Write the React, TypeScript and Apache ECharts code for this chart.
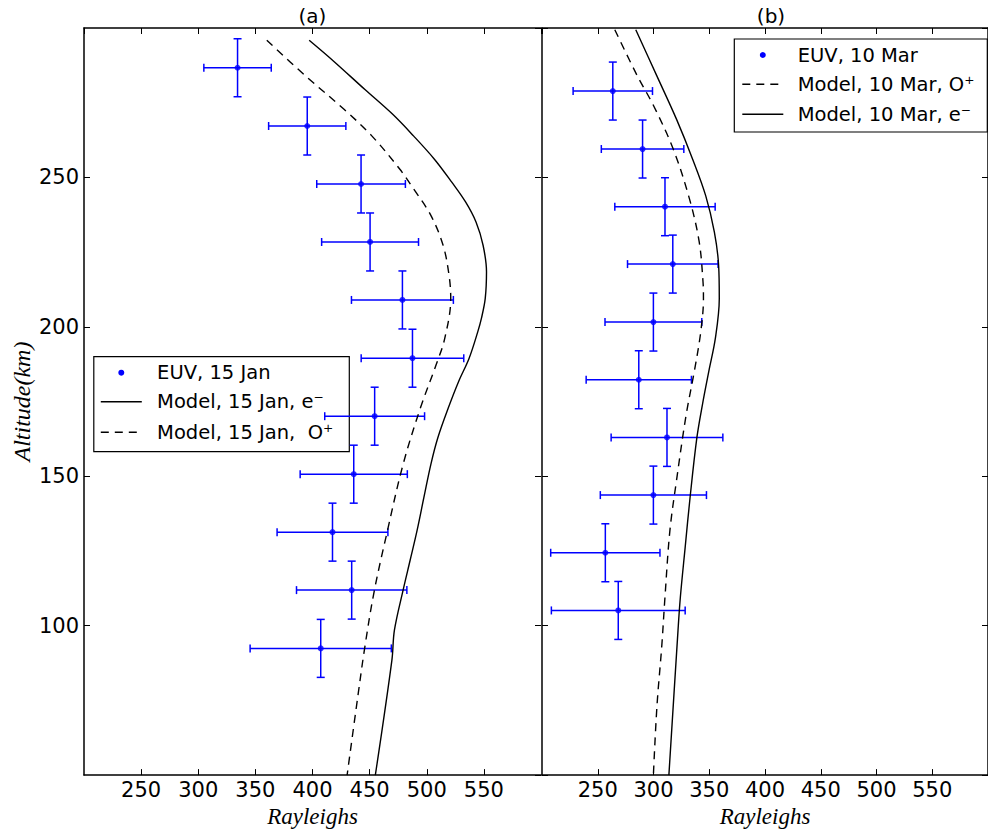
import React, { useEffect, useRef } from "react";
import * as echarts from "echarts";

// ---------- data ----------
const xTickLabels = ["250", "300", "350", "400", "450", "500", "550"];
const yTickLabels = ["100", "150", "200", "250"];

// Panel (a): EUV, 15 Jan
const janAlt = [286.7, 267.2, 247.8, 228.4, 209.0, 189.5, 170.1, 150.7, 131.3, 111.9, 92.4];
const janEuv = [334.4, 395.4, 442.5, 450.4, 478.7, 487.5, 454.4, 436.1, 417.5, 434.3, 407.2];
const janEuvErr = [29.5, 33.8, 38.8, 42.4, 44.6, 44.9, 43.7, 46.9, 48.5, 48.3, 61.8];
const altErr = 9.7;

// Model, 15 Jan, e-
const janEAlt = [295.9, 288.9, 279.4, 271.1, 263.9, 256.1, 248.4, 241.7, 235.0, 227.3, 218.4, 209.5, 202.9, 198.4, 189.5, 181.8, 172.9, 162.9, 154.0, 142.9, 131.8, 121.8, 111.9, 98.5, 88.5, 50];
const janE = [397.1, 418.5, 445.9, 470.2, 488.4, 506.7, 521.9, 534.1, 543.2, 549.3, 552.3, 551.2, 547.9, 544.7, 537.1, 528.0, 518.9, 509.7, 503.6, 497.5, 491.5, 485.4, 479.3, 471.7, 469.5, 455.0];

// Model, 15 Jan, O+
const janOAlt = [295.9, 283.9, 272.8, 263.9, 252.8, 246.2, 237.3, 227.3, 217.3, 209.5, 196.2, 187.3, 172.9, 154.0, 131.8, 111.5, 93.1, 76.4, 50];
const janO = [360.0, 394.1, 427.6, 451.9, 476.3, 488.4, 503.6, 514.3, 519.5, 521.0, 515.8, 508.2, 494.5, 479.3, 465.6, 454.0, 445.9, 439.7, 430.3];

// Panel (b): EUV, 10 Mar
const marAlt = [278.9, 259.5, 240.2, 221.0, 201.6, 182.3, 163.0, 143.7, 124.4, 105.1];
const marEuv = [263.5, 290.2, 310.3, 317.3, 299.9, 286.8, 312.1, 299.9, 256.8, 268.4];
const marEuvErr = [35.6, 37.0, 45.0, 40.6, 43.4, 47.2, 50.1, 47.6, 49.0, 60.0];

// Model, 10 Mar, e-
const marEAlt = [299.4, 283.9, 269.5, 256.1, 243.9, 231.7, 220.6, 209.5, 196.2, 185.1, 174.0, 162.9, 142.9, 126.2, 109.6, 98.5, 50];
const marE = [284.1, 303.1, 320.6, 335.1, 346.8, 354.6, 358.4, 359.0, 355.5, 349.6, 343.9, 338.9, 332.8, 328.4, 324.1, 322.0, 313.8];

// Model, 10 Mar, O+
const marOAlt = [299.4, 283.9, 273.9, 259.5, 242.9, 228.4, 215.1, 209.5, 198.4, 185.1, 170.6, 148.5, 131.8, 109.6, 93.1, 73.1, 50];
const marO = [265.3, 285.6, 300.2, 317.7, 332.2, 341.0, 344.4, 344.8, 342.4, 336.6, 329.3, 320.6, 314.7, 310.3, 307.4, 303.1, 299.9];

const legendA = ["EUV, 15 Jan", "Model, 15 Jan, e\u207B", "Model, 15 Jan,  O\u207A"];
const legendB = ["EUV, 10 Mar", "Model, 10 Mar, O\u207A", "Model, 10 Mar, e\u207B"];

// ---------- styling ----------
const BLUE = "#0000ff";
const SANS = "DejaVu Sans";
const SERIF = "Liberation Serif";
const DASH = [8, 6];

const pairs = (ys: number[], xs: number[]) => xs.map((x, i) => [x, ys[i]]);

function errorBars(xs: number[], ys: number[], err: number[], ax: number) {
  return {
    type: "custom",
    xAxisIndex: ax,
    yAxisIndex: ax,
    z: 3,
    silent: true,
    data: xs.map((x, i) => [x, ys[i], err[i], altErr]),
    encode: { x: 0, y: 1 },
    renderItem: (_p: any, api: any) => {
      const x = api.value(0), y = api.value(1), ex = api.value(2), ey = api.value(3);
      const L = api.coord([x - ex, y]);
      const R = api.coord([x + ex, y]);
      const T = api.coord([x, y + ey]);
      const B = api.coord([x, y - ey]);
      const cap = 4;
      const style = { stroke: BLUE, lineWidth: 1.5 };
      const ln = (x1: number, y1: number, x2: number, y2: number) => ({
        type: "line",
        shape: { x1, y1, x2, y2 },
        style,
      });
      return {
        type: "group",
        children: [
          ln(L[0], L[1], R[0], R[1]),
          ln(T[0], T[1], B[0], B[1]),
          ln(L[0], L[1] - cap, L[0], L[1] + cap),
          ln(R[0], R[1] - cap, R[0], R[1] + cap),
          ln(T[0] - cap, T[1], T[0] + cap, T[1]),
          ln(B[0] - cap, B[1], B[0] + cap, B[1]),
        ],
      };
    },
  };
}

function xAxis(grid: number, pos: "bottom" | "top", labels: boolean, name?: string) {
  return {
    type: "value",
    gridIndex: grid,
    position: pos,
    min: 200,
    max: 600,
    interval: 50,
    name: name,
    nameLocation: "middle",
    nameGap: 25,
    nameTextStyle: { fontFamily: SERIF, fontStyle: "italic", fontSize: 23, color: "#000" },
    axisLine: { show: true, onZero: false, lineStyle: { color: "#000", width: 1.5 } },
    axisTick: { show: true, inside: true, length: 6, lineStyle: { color: "#000", width: 1 } },
    axisLabel: {
      show: labels,
      fontFamily: SANS,
      fontSize: 21,
      color: "#000",
      margin: 4,
      showMinLabel: false,
      showMaxLabel: false,
      formatter: (v: number) => (xTickLabels.includes(String(v)) ? String(v) : ""),
    },
    splitLine: { show: false },
  };
}

function yAxis(grid: number, pos: "left" | "right", labels: boolean, name?: string, line = true) {
  return {
    type: "value",
    gridIndex: grid,
    position: pos,
    min: 50,
    max: 300,
    interval: 50,
    name: name,
    nameLocation: "middle",
    nameRotate: 90,
    nameGap: 50,
    nameTextStyle: { fontFamily: SERIF, fontStyle: "italic", fontSize: 24, color: "#000" },
    axisLine: { show: line, onZero: false, lineStyle: { color: "#000", width: 1.5 } },
    axisTick: { show: true, inside: true, length: 6, lineStyle: { color: "#000", width: 1 } },
    axisLabel: {
      show: labels,
      fontFamily: SANS,
      fontSize: 21,
      color: "#000",
      margin: 5,
      showMinLabel: false,
      showMaxLabel: false,
      formatter: (v: number) => (yTickLabels.includes(String(v)) ? String(v) : ""),
    },
    splitLine: { show: false },
  };
}

function legendGraphic(
  box: [number, number, number, number],
  iconX: number,
  textX: number,
  rows: number[],
  names: string[],
  kinds: ("dot" | "solid" | "dash")[]
) {
  const children: any[] = [
    {
      type: "rect",
      shape: { x: box[0], y: box[1], width: box[2], height: box[3] },
      style: { fill: "#fff", stroke: "#000", lineWidth: 1.2 },
    },
  ];
  rows.forEach((y, i) => {
    const k = kinds[i];
    if (k === "dot") {
      children.push({ type: "circle", shape: { cx: iconX + 20.5, cy: y, r: 3 }, style: { fill: BLUE } });
    } else {
      children.push({
        type: "line",
        shape: { x1: iconX, y1: y, x2: iconX + 41, y2: y },
        style: { stroke: "#000", lineWidth: 1.4, lineDash: k === "dash" ? DASH : null },
      });
    }
    children.push({
      type: "text",
      x: textX,
      y: y,
      style: {
        text: names[i],
        fontFamily: SANS,
        fontSize: 19.5,
        fill: "#000",
        textAlign: "left",
        textVerticalAlign: "middle",
      },
    });
  });
  return { type: "group", z: 100, children };
}

export default function App() {
  const ref = useRef<HTMLDivElement>(null);

  useEffect(() => {
    if (!ref.current) return;
    const chart = echarts.init(ref.current, null, { renderer: "svg" });
    const lineStyle = (dashed: boolean) => ({ color: "#000", width: 1.4, type: dashed ? DASH : "solid" });
    const option: any = {
      animation: false,
      backgroundColor: "#fff",
      grid: [
        { left: 84, top: 28, width: 457, height: 751 },
        { left: 542, top: 28, width: 458, height: 751 },
      ],
      xAxis: [
        xAxis(0, "bottom", true, "Rayleighs"),
        xAxis(0, "top", false),
        xAxis(1, "bottom", true, "Rayleighs"),
        xAxis(1, "top", false),
      ],
      yAxis: [
        yAxis(0, "left", true, "Altitude(km)"),
        yAxis(0, "right", false, undefined, false),
        yAxis(1, "left", false),
        yAxis(1, "right", false),
      ],
      series: [
        {
          name: legendA[1],
          type: "line",
          xAxisIndex: 0,
          yAxisIndex: 0,
          data: pairs(janEAlt, janE),
          showSymbol: false,
          symbol: "none",
          smooth: 0.35,
          lineStyle: lineStyle(false),
        },
        {
          name: legendA[2],
          type: "line",
          xAxisIndex: 0,
          yAxisIndex: 0,
          data: pairs(janOAlt, janO),
          showSymbol: false,
          symbol: "none",
          smooth: 0.35,
          lineStyle: lineStyle(true),
        },
        errorBars(janEuv, janAlt, janEuvErr, 0),
        {
          name: legendA[0],
          type: "scatter",
          xAxisIndex: 0,
          yAxisIndex: 0,
          z: 4,
          symbolSize: 6,
          itemStyle: { color: BLUE },
          data: pairs(janAlt, janEuv),
        },
        {
          name: legendB[2],
          type: "line",
          xAxisIndex: 2,
          yAxisIndex: 2,
          data: pairs(marEAlt, marE),
          showSymbol: false,
          symbol: "none",
          smooth: 0.35,
          lineStyle: lineStyle(false),
        },
        {
          name: legendB[1],
          type: "line",
          xAxisIndex: 2,
          yAxisIndex: 2,
          data: pairs(marOAlt, marO),
          showSymbol: false,
          symbol: "none",
          smooth: 0.35,
          lineStyle: lineStyle(true),
        },
        errorBars(marEuv, marAlt, marEuvErr, 2),
        {
          name: legendB[0],
          type: "scatter",
          xAxisIndex: 2,
          yAxisIndex: 2,
          z: 4,
          symbolSize: 6,
          itemStyle: { color: BLUE },
          data: pairs(marAlt, marEuv),
        },
      ],
      graphic: [
        {
          type: "text",
          x: 312.5,
          y: 15.5,
          style: { text: "(a)", fontFamily: SANS, fontSize: 20, fill: "#000", textAlign: "center", textVerticalAlign: "middle" },
        },
        {
          type: "text",
          x: 771,
          y: 15.5,
          style: { text: "(b)", fontFamily: SANS, fontSize: 20, fill: "#000", textAlign: "center", textVerticalAlign: "middle" },
        },
        legendGraphic([93.8, 356.7, 255.5, 95], 100.8, 157.1, [372.7, 401.7, 432.3], legendA, ["dot", "solid", "dash"]),
        legendGraphic([734.3, 39, 253, 93], 742.3, 797.7, [55, 84.3, 114.3], legendB, ["dot", "dash", "solid"]),
      ],
    };
    chart.setOption(option);
    return () => chart.dispose();
  }, []);

  return (
    <div
      ref={ref}
      style={{ position: "absolute", left: 0, top: 0, width: 988, height: 833, background: "#fff" }}
    />
  );
}
